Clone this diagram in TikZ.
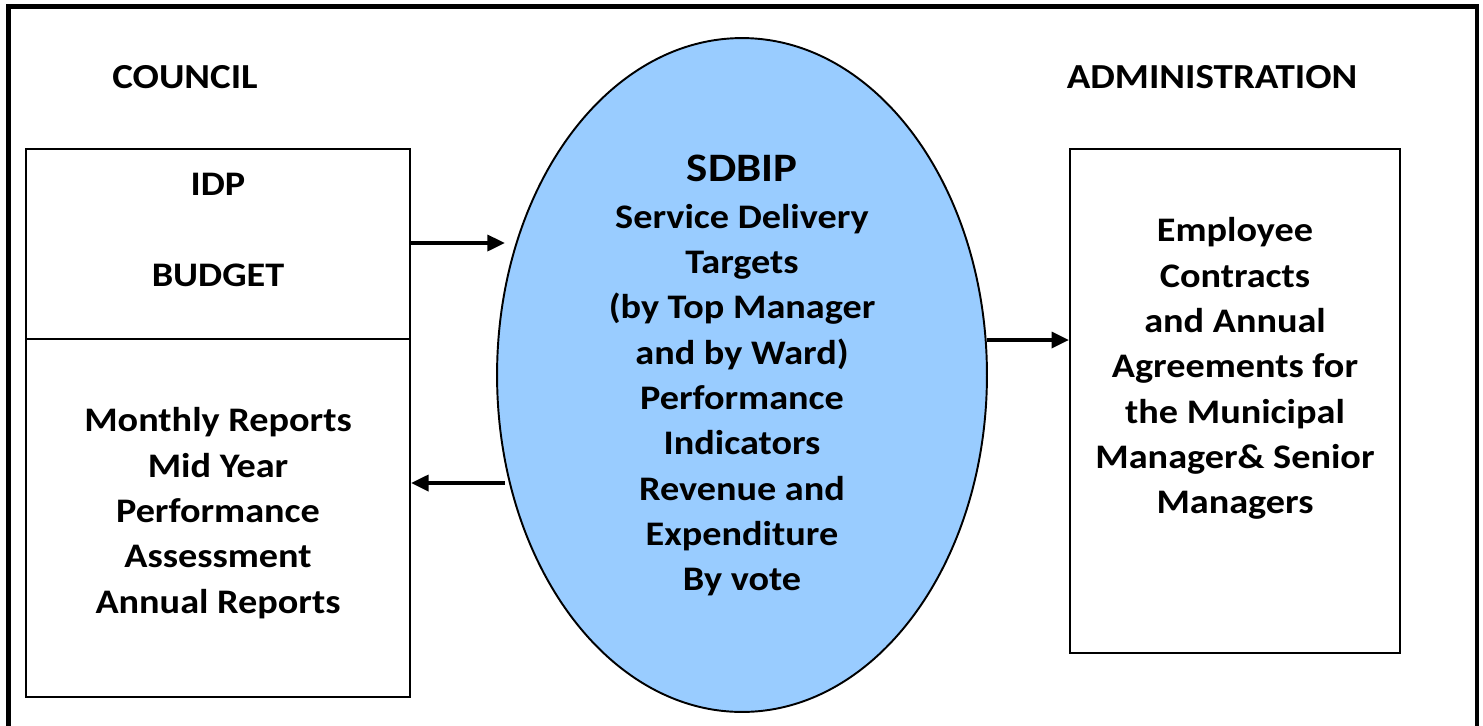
\documentclass[tikz,border=0pt]{standalone}
\usepackage{fontspec}
\setmainfont{Carlito}[FakeStretch=1.11]
\usetikzlibrary{arrows.meta, positioning, shapes.geometric}
\definecolor{sdbipblue}{HTML}{99CCFF}

\begin{document}
\begin{tikzpicture}[x=0.02cm, y=-0.02cm,
    panel/.style={draw, line width=1.1pt, inner sep=0pt},
    txt/.style={align=center, font=\bfseries\fontsize{19.6}{25.8}\selectfont},
    head/.style={font=\bfseries\fontsize{20}{24}\selectfont},
    arr/.style={-{Triangle[length=10pt, width=9pt]}, line width=2.2pt}
  ]
    \useasboundingbox (0,0) rectangle (1483,725);
    % outer frame
    \draw[line width=2.3pt] (8.5,6.5) rectangle (1477,760);

    \node[head] (council) at (185,77) {COUNCIL};
    \node[head] (admin) at (1212,77) {ADMINISTRATION};

    % council side
    \node[panel, minimum width=7.68cm, minimum height=3.8cm] (plan) at (218,244) {};
    \node[panel, minimum width=7.68cm, minimum height=7.16cm] (review) at (218,518) {};
    \node[txt] (plantxt) at (218,230) {IDP\\[26.5pt]BUDGET};
    \node[txt] (reviewtxt) at (218,513) {Monthly Reports\\Mid Year\\Performance\\Assessment\\Annual Reports};

    % the plan in the middle
    \node[ellipse, draw, line width=1.1pt, fill=sdbipblue, inner sep=0pt,
          minimum width=9.8cm, minimum height=13.48cm] (sdbip) at (742,375) {};
    \node[txt] (sdbiptxt) at (742,375.5) {{\fontsize{23}{26}\selectfont SDBIP}\\[1pt]
      Service Delivery\\Targets\\(by Top Manager\\and by Ward)\\Performance\\Indicators\\Revenue and\\Expenditure\\By vote};

    % administration side
    \node[panel, minimum width=6.6cm, minimum height=10.08cm] (contracts) at (1235,401) {};
    \node[txt] (contractstxt) at (1235,368.5) {Employee\\Contracts\\and Annual\\Agreements for\\the Municipal\\Manager\& Senior\\Managers};

    \coordinate (in1) at (505,243);
    \coordinate (out1) at (505,483);
    \coordinate (out2) at (987,340);
    \draw[arr] (plan.east |- in1) -- (in1);
    \draw[arr] (out1) -- (out1 -| review.east);
    \draw[arr] (out2) -- (out2 -| contracts.west);
  \end{tikzpicture}
\end{document}
